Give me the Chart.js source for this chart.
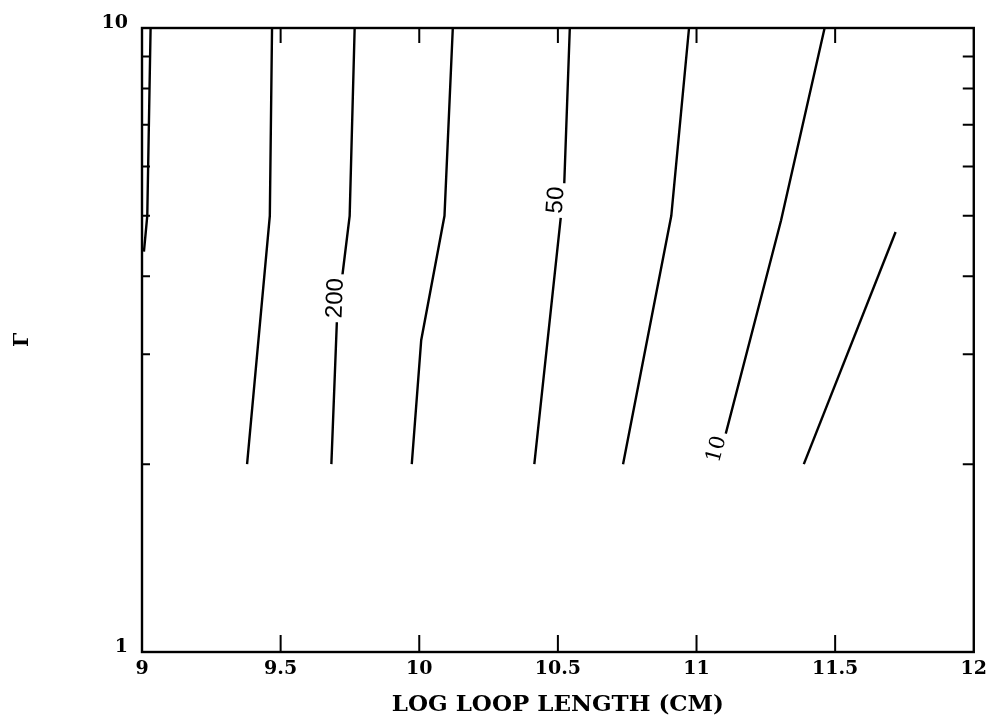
<!DOCTYPE html>
<html>
<head>
<meta charset="utf-8">
<script src="https://cdn.jsdelivr.net/npm/chart.js@4.4.1/dist/chart.umd.min.js"></script>
<style>
    html, body { margin: 0; padding: 0; background: #fff; }
    canvas { display: block; }
</style>
</head>
<body>
<canvas id="gamma-canvas" width="993" height="721"></canvas>
<script>
// contour lines: log loop length vs gamma
const c1X = [9.007, 9.019, 9.031];
const c1Y = [4.38, 5, 10];
const c2X = [9.379, 9.461, 9.469];
const c2Y = [2, 5, 10];
const c3X = [9.683, 9.703, 9.722, 9.749, 9.767];
const c3Y = [2, 3.40, 3.99, 5, 10];
const c4X = [9.973, 10.007, 10.091, 10.121];
const c4Y = [2, 3.16, 5, 10];
const c5X = [10.415, 10.511, 10.523, 10.543];
const c5Y = [2, 5, 5.64, 10];
const c6X = [10.735, 10.909, 10.973];
const c6Y = [2, 5, 10];
const c7X = [11.077, 11.305, 11.462];
const c7Y = [2, 4.92, 10];
const c8X = [11.387, 11.718];
const c8Y = [2, 4.71];

// contour level labels
const levelText = ["200", "50", "10"];
const levelX = [9.695, 10.490, 11.070];
const levelY = [3.69, 5.30, 2.115];

const xTicks = [9, 9.5, 10, 10.5, 11, 11.5, 12];
const yTicks = [1, 2, 3, 4, 5, 6, 7, 8, 9, 10];
const yTickLabels = { 1: "1", 10: "10" };

const serif = "'DejaVu Serif', serif";

function toPoints(xs, ys) {
    return xs.map((x, i) => ({ x: x, y: ys[i] }));
}

const contours = [[c1X, c1Y], [c2X, c2Y], [c3X, c3Y], [c4X, c4Y],
                  [c5X, c5Y], [c6X, c6Y], [c7X, c7Y], [c8X, c8Y]];

const levelStyle = [
    { angle: -88, font: "24px 'Liberation Sans', sans-serif" },
    { angle: -86, font: "24px 'Liberation Sans', sans-serif" },
    { angle: -75, font: "21px " + serif }
];

// labels sit on the lines, white box cuts the gap
const levelLabels = {
    id: "levelLabels",
    afterDatasetsDraw(chart) {
        const ctx = chart.ctx;
        const xs = chart.scales.x;
        const ys = chart.scales.y;
        ctx.save();
        levelText.forEach((txt, i) => {
            const px = xs.getPixelForValue(levelX[i]);
            const py = ys.getPixelForValue(levelY[i]);
            ctx.save();
            ctx.translate(px, py);
            ctx.rotate(levelStyle[i].angle * Math.PI / 180);
            ctx.font = levelStyle[i].font;
            const w = ctx.measureText(txt).width;
            ctx.fillStyle = "#fff";
            ctx.fillRect(-w / 2 - 4, -12, w + 8, 24);
            ctx.fillStyle = "#000";
            ctx.textAlign = "center";
            ctx.textBaseline = "middle";
            ctx.fillText(txt, 0, 1);
            ctx.restore();
        });
        ctx.restore();
    }
};

// box around the plot with inward ticks on all sides
const frameTicks = {
    id: "frameTicks",
    afterDraw(chart) {
        const ctx = chart.ctx;
        const a = chart.chartArea;
        const xs = chart.scales.x;
        const ys = chart.scales.y;
        ctx.save();
        ctx.strokeStyle = "#000";
        ctx.lineWidth = 2;
        ctx.beginPath();
        for (const v of xTicks) {
            if (v === 9 || v === 12) continue;
            const px = xs.getPixelForValue(v);
            ctx.moveTo(px, a.bottom);
            ctx.lineTo(px, a.bottom - 17);
            ctx.moveTo(px, a.top);
            ctx.lineTo(px, a.top + 15);
        }
        for (const v of yTicks) {
            if (v === 1 || v === 10) continue;
            const py = ys.getPixelForValue(v);
            ctx.moveTo(a.left, py);
            ctx.lineTo(a.left + 8, py);
            ctx.moveTo(a.right, py);
            ctx.lineTo(a.right - 11, py);
        }
        ctx.stroke();
        ctx.lineWidth = 2.4;
        ctx.strokeRect(a.left, a.top, a.right - a.left, a.bottom - a.top);
        ctx.restore();
    }
};

const ctx = document.getElementById("gamma-canvas");

const gammaChart = new Chart(ctx, {
    type: "scatter",
    data: {
        datasets: contours.map(([xs, ys]) => ({
            data: toPoints(xs, ys),
            showLine: true,
            borderColor: "#000",
            borderWidth: 2.4,
            pointRadius: 0,
            tension: 0,
            fill: false
        }))
    },
    options: {
        responsive: false,
        animation: false,
        layout: {
            padding: { left: 0, top: 28, right: 17.5, bottom: 0 }
        },
        scales: {
            x: {
                type: "linear",
                min: 9,
                max: 12,
                afterBuildTicks: (scale) => {
                    scale.ticks = xTicks.map(v => ({ value: v }));
                },
                afterFit: (scale) => { scale.height = 69; },
                grid: { drawOnChartArea: false, drawTicks: false },
                border: { display: false },
                ticks: {
                    color: "#000",
                    padding: 6,
                    maxRotation: 0,
                    font: { family: serif, size: 19, weight: "bold" },
                    callback: (v) => String(v)
                },
                title: {
                    display: true,
                    text: "LOG LOOP LENGTH (CM)",
                    color: "#000",
                    padding: { top: 4, bottom: 2 },
                    font: { family: serif, size: 23, weight: "bold" }
                }
            },
            y: {
                type: "logarithmic",
                min: 1,
                max: 10,
                afterBuildTicks: (scale) => {
                    scale.ticks = yTicks.map(v => ({ value: v }));
                },
                afterFit: (scale) => { scale.width = 142; },
                grid: { drawOnChartArea: false, drawTicks: false },
                border: { display: false },
                ticks: {
                    color: "#000",
                    padding: 14,
                    labelOffset: -5,
                    autoSkip: false,
                    font: { family: serif, size: 19, weight: "bold" },
                    callback: (v) => yTickLabels[v] || ""
                },
                title: {
                    display: true,
                    text: "Γ",
                    color: "#000",
                    padding: { top: 11, bottom: 4 },
                    font: { family: serif, size: 20, weight: "bold" }
                }
            }
        },
        plugins: {
            legend: { display: false },
            tooltip: { enabled: false }
        }
    },
    plugins: [levelLabels, frameTicks]
});
</script>
</body>
</html>
